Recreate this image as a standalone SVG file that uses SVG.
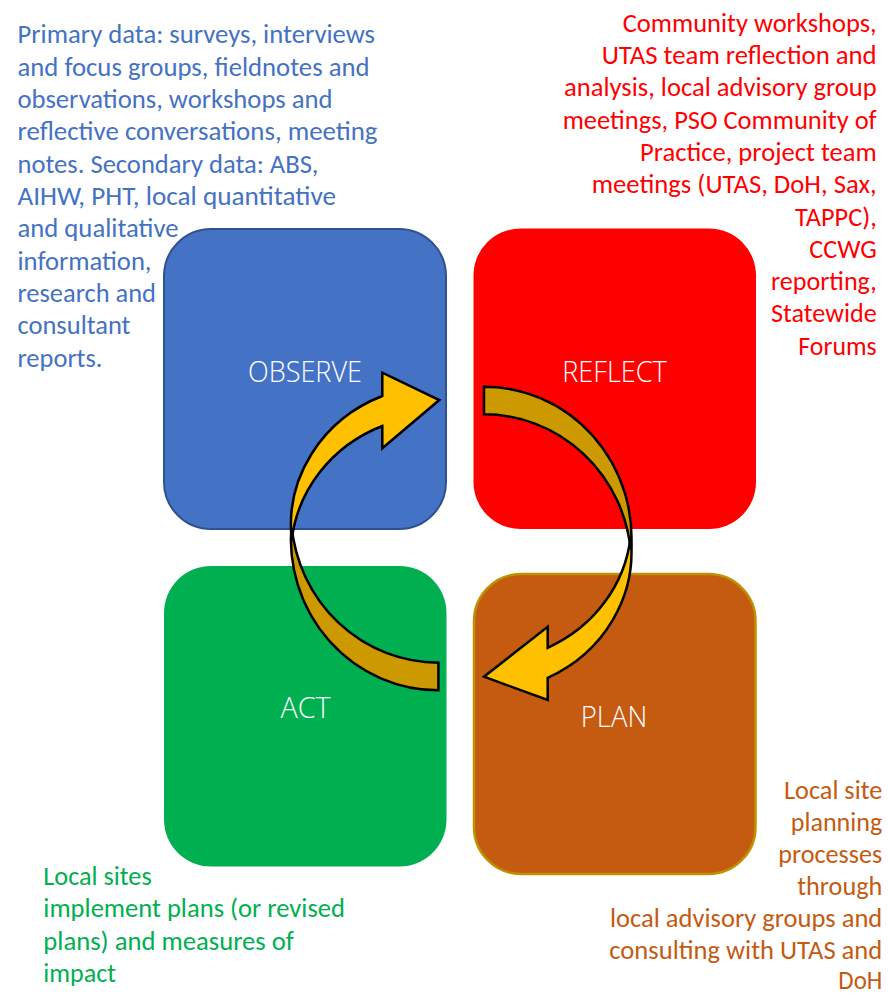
<svg xmlns="http://www.w3.org/2000/svg" width="888" height="995" viewBox="0 0 888 995">
<style>
.desc{font-family:Carlito,Lato,"Liberation Sans",sans-serif;font-size:26px}
.lbl{font-family:"Open Sans",Lato,sans-serif;font-weight:300;font-size:29px;fill:#fff;text-anchor:middle}
.blue{fill:#4472C4}
.red{fill:#FF0000;text-anchor:end}
.green{fill:#00B050}
.orange{fill:#C55A11;text-anchor:end}
.front{fill:#FFC000;stroke:#000;stroke-width:2.5;stroke-linejoin:miter}
.back{fill:#CC9900;stroke:#000;stroke-width:2.5;stroke-linejoin:miter}
</style>
<rect width="888" height="995" fill="#fff"/>
<g id="observe">
<rect x="164" y="229" width="282" height="300" rx="47" fill="#4472C4" stroke="#2F528F" stroke-width="2"/>
<text class="lbl" x="305" y="382" textLength="114" lengthAdjust="spacingAndGlyphs">OBSERVE</text>
<g class="desc blue">
<text x="17.5" y="43.3" textLength="357.5" lengthAdjust="spacingAndGlyphs">Primary data: surveys, interviews</text>
<text x="17.5" y="75.6" textLength="352" lengthAdjust="spacingAndGlyphs">and focus groups, fieldnotes and</text>
<text x="17.5" y="108" textLength="315" lengthAdjust="spacingAndGlyphs">observations, workshops and</text>
<text x="17.5" y="140.3" textLength="360" lengthAdjust="spacingAndGlyphs">reflective conversations, meeting</text>
<text x="17.5" y="172.7" textLength="301" lengthAdjust="spacingAndGlyphs">notes. Secondary data: ABS,</text>
<text x="17.5" y="205" textLength="318.5" lengthAdjust="spacingAndGlyphs">AIHW, PHT, local quantitative</text>
<text x="17.5" y="237.3" textLength="161" lengthAdjust="spacingAndGlyphs">and qualitative</text>
<text x="17.5" y="269.7" textLength="134" lengthAdjust="spacingAndGlyphs">information,</text>
<text x="17.5" y="302" textLength="138.5" lengthAdjust="spacingAndGlyphs">research and</text>
<text x="17.5" y="334.4" textLength="113" lengthAdjust="spacingAndGlyphs">consultant</text>
<text x="17.5" y="366.7" textLength="85" lengthAdjust="spacingAndGlyphs">reports.</text>
</g>
</g>
<g id="reflect">
<rect x="473.5" y="228.5" width="282.5" height="300.5" rx="47" fill="#FF0000"/>
<text class="lbl" x="614.5" y="382" textLength="104.5" lengthAdjust="spacingAndGlyphs">REFLECT</text>
<g class="desc red">
<text x="876.7" y="31.7" textLength="254" lengthAdjust="spacingAndGlyphs">Community workshops,</text>
<text x="876.7" y="64" textLength="275" lengthAdjust="spacingAndGlyphs">UTAS team reflection and</text>
<text x="876.7" y="96.3" textLength="312.7" lengthAdjust="spacingAndGlyphs">analysis, local advisory group</text>
<text x="876.7" y="128.6" textLength="314" lengthAdjust="spacingAndGlyphs">meetings, PSO Community of</text>
<text x="876.7" y="160.9" textLength="236.7" lengthAdjust="spacingAndGlyphs">Practice, project team</text>
<text x="876.7" y="193.2" textLength="285" lengthAdjust="spacingAndGlyphs">meetings (UTAS, DoH, Sax,</text>
<text x="876.7" y="225.5" textLength="81.7" lengthAdjust="spacingAndGlyphs">TAPPC),</text>
<text x="876.7" y="257.8" textLength="67.4" lengthAdjust="spacingAndGlyphs">CCWG</text>
<text x="876.7" y="290.1" textLength="105.7" lengthAdjust="spacingAndGlyphs">reporting,</text>
<text x="876.7" y="322.4" textLength="105.7" lengthAdjust="spacingAndGlyphs">Statewide</text>
<text x="876.7" y="354.7" textLength="78.4" lengthAdjust="spacingAndGlyphs">Forums</text>
</g>
</g>
<g id="act">
<rect x="164" y="566" width="282.5" height="300.5" rx="47" fill="#00B050"/>
<text class="lbl" x="305.5" y="718.3" textLength="50" lengthAdjust="spacingAndGlyphs">ACT</text>
<g class="desc green">
<text x="43.3" y="885" textLength="108.4" lengthAdjust="spacingAndGlyphs">Local sites</text>
<text x="43.3" y="917.3" textLength="301.7" lengthAdjust="spacingAndGlyphs">implement plans (or revised</text>
<text x="43.3" y="949.6" textLength="250.7" lengthAdjust="spacingAndGlyphs">plans) and measures of</text>
<text x="43.3" y="981.9" textLength="72.7" lengthAdjust="spacingAndGlyphs">impact</text>
</g>
</g>
<g id="plan">
<rect x="474" y="574" width="281.5" height="300" rx="47" fill="#C55A11" stroke="#BF9000" stroke-width="2.5"/>
<text class="lbl" x="614" y="726.7" textLength="66.4" lengthAdjust="spacingAndGlyphs">PLAN</text>
<g class="desc orange">
<text x="882.3" y="799" textLength="98.3" lengthAdjust="spacingAndGlyphs">Local site</text>
<text x="882.3" y="830.9" textLength="91.6" lengthAdjust="spacingAndGlyphs">planning</text>
<text x="882.3" y="862.8" textLength="104" lengthAdjust="spacingAndGlyphs">processes</text>
<text x="882.3" y="894.7" textLength="85" lengthAdjust="spacingAndGlyphs">through</text>
<text x="882.3" y="926.6" textLength="272.3" lengthAdjust="spacingAndGlyphs">local advisory groups and</text>
<text x="882.3" y="958.5" textLength="273" lengthAdjust="spacingAndGlyphs">consulting with UTAS and</text>
<text x="882.3" y="989.4" textLength="44" lengthAdjust="spacingAndGlyphs">DoH</text>
</g>
</g>
<g id="connectors">
<g id="arrow-act-observe">
<path class="back" d="M438.4,690.3 A147.5,151.3 0 0 1 291.5,525.2 A147.5,151.3 0 0 0 438.4,662.7 Z"/>
<path class="front" d="M291.8,540 A147.5,139.5 0 0 1 382.3,396 L382.3,372.7 L439.3,400 L382.3,448.3 L382.3,426 A147.5,139.5 0 0 0 291.8,540 Z"/>
</g>
<g id="arrow-reflect-plan">
<path class="back" d="M484,386.7 A147.5,151.3 0 0 1 630.9,551.8 A147.5,151.3 0 0 0 484,414.3 Z"/>
<path class="front" d="M630.6,537 A147.5,139.5 0 0 1 547.7,677.8 L547.7,700 L484,676.7 L547.7,626.7 L547.7,647.8 A147.5,139.5 0 0 0 630.6,537 Z"/>
</g>
</g>
</svg>
